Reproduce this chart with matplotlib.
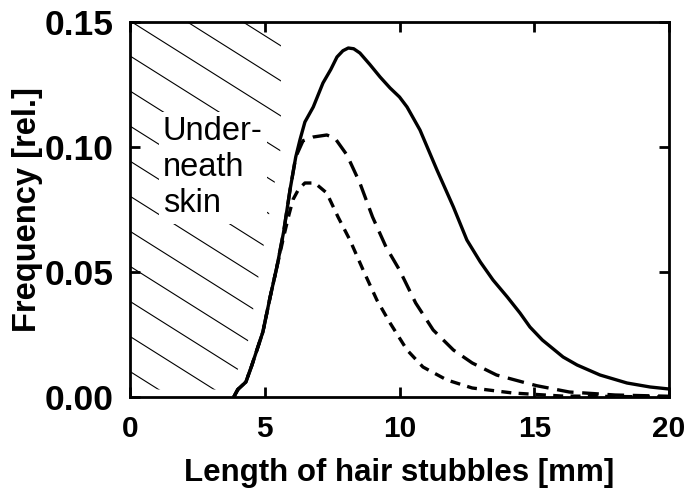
import numpy as np
import matplotlib
matplotlib.use("Agg")
import matplotlib.pyplot as plt
from matplotlib.patches import Polygon

plt.rcParams['font.family'] = ['Liberation Sans', 'DejaVu Sans']

# ---- data ----
solid_x = [3.85, 4.0, 4.3, 4.5, 4.93, 5.2, 5.45, 5.7, 5.94, 6.15, 6.31, 6.49, 6.8, 7.16, 7.45, 7.68, 7.9, 8.1, 8.3, 8.53, 8.9, 9.28, 9.65, 10.0, 10.28, 10.76, 11.39, 12.0, 12.5, 13.0, 13.47, 14.0, 14.47, 14.84, 15.3, 16.07, 16.59, 17.44, 18.44, 19.3, 20.0]
solid_y = [0.0, 0.003, 0.006, 0.012, 0.026, 0.040, 0.052, 0.066, 0.083, 0.096, 0.103, 0.110, 0.116, 0.1256, 0.131, 0.136, 0.1385, 0.1396, 0.1393, 0.1376, 0.133, 0.128, 0.1236, 0.120, 0.116, 0.1068, 0.0908, 0.076, 0.0628, 0.054, 0.0468, 0.040, 0.0336, 0.028, 0.0228, 0.016, 0.0128, 0.0088, 0.0056, 0.004, 0.0032]

long_x = [3.85, 4.0, 4.3, 4.5, 4.93, 5.2, 5.45, 5.7, 5.94, 6.15, 6.42, 6.8, 7.3, 7.6, 8.05, 8.53, 9.0, 9.5, 10.0, 10.6, 11.25, 12.0, 12.7, 13.6, 14.7, 15.1, 16.3, 18.0, 20.0]
long_y = [0.0, 0.003, 0.006, 0.012, 0.026, 0.040, 0.052, 0.066, 0.083, 0.096, 0.1025, 0.104, 0.1048, 0.1036, 0.0968, 0.0856, 0.072, 0.060, 0.0508, 0.0376, 0.0268, 0.0188, 0.0136, 0.0088, 0.0056, 0.0045, 0.002, 0.0008, 0.0003]

short_x = [3.85, 4.0, 4.3, 4.5, 4.93, 5.2, 5.45, 5.7, 5.9, 6.05, 6.25, 6.49, 6.86, 7.3, 7.72, 8.16, 8.65, 9.16, 9.65, 10.28, 10.87, 11.76, 12.7, 14.2, 16.0, 20.0]
short_y = [0.0, 0.003, 0.006, 0.012, 0.026, 0.040, 0.052, 0.064, 0.073, 0.079, 0.083, 0.0856, 0.0856, 0.0816, 0.072, 0.0628, 0.0508, 0.0388, 0.0296, 0.0188, 0.012, 0.0068, 0.0036, 0.0016, 0.0004, 0.0]

x_ticks = [0, 5, 10, 15, 20]
y_ticks = [0.00, 0.05, 0.10, 0.15]
y_ticklabels = ["0.00", "0.05", "0.10", "0.15"]
skin_label = "Under-\nneath\nskin"
xlabel = "Length of hair stubbles [mm]"
ylabel = "Frequency [rel.]"

# region below the skin (hatched)
skin_x = [0.0, 0.0, 5.6, 5.6, 4.9, 4.3, 3.6]
skin_y = [0.003, 0.15, 0.15, 0.10, 0.057, 0.017, 0.003]

fig = plt.figure(figsize=(6.91, 5.0), dpi=100)
ax = fig.add_axes([130/691, 103/500, 539/691, 375/500])

ax.set_xlim(0, 20)
ax.set_ylim(0, 0.15)

# hatch lines clipped to region
poly = Polygon(np.column_stack([skin_x, skin_y]), closed=True, facecolor='none', edgecolor='none')
ax.add_patch(poly)
slope = 0.63 * 539 / 375
for b in np.arange(1.19, 0.0, -0.0935):
    xs = np.array([0.0, 1.0])
    ln, = ax.plot(xs, b - slope * xs, transform=ax.transAxes, color='black', lw=0.8, zorder=1)
    ln.set_clip_path(poly)

ax.text(1.22, 0.1125, skin_label, fontsize=23.5, ha='left', va='top', linespacing=1.22,
        bbox=dict(facecolor='white', edgecolor='none', pad=3), zorder=2)

lw = 2.4
ax.plot(solid_x, solid_y, color='black', lw=lw, zorder=3, solid_capstyle='butt')
ax.plot(long_x, long_y, color='black', lw=lw, dashes=(5.0, 2.6), zorder=3)
ax.plot(short_x, short_y, color='black', lw=lw, dashes=(3.0, 2.2), zorder=3)

ax.set_xticks(x_ticks)
ax.set_xticklabels([str(t) for t in x_ticks])
ax.set_yticks(y_ticks)
ax.set_yticklabels(y_ticklabels)
ax.tick_params(direction='in', length=7, width=2, top=True, right=True)
ax.tick_params(axis='x', labelsize=21.5, pad=13)
ax.tick_params(axis='y', labelsize=25.5, pad=12)
for lab in ax.get_xticklabels() + ax.get_yticklabels():
    lab.set_fontweight('bold')
for s in ax.spines.values():
    s.set_linewidth(2.0)

ax.set_xlabel(xlabel, fontsize=22.5, fontweight='bold', labelpad=11)
ax.set_ylabel(ylabel, fontsize=23.5, fontweight='bold', labelpad=1)

fig.savefig("out.png", dpi=100)
